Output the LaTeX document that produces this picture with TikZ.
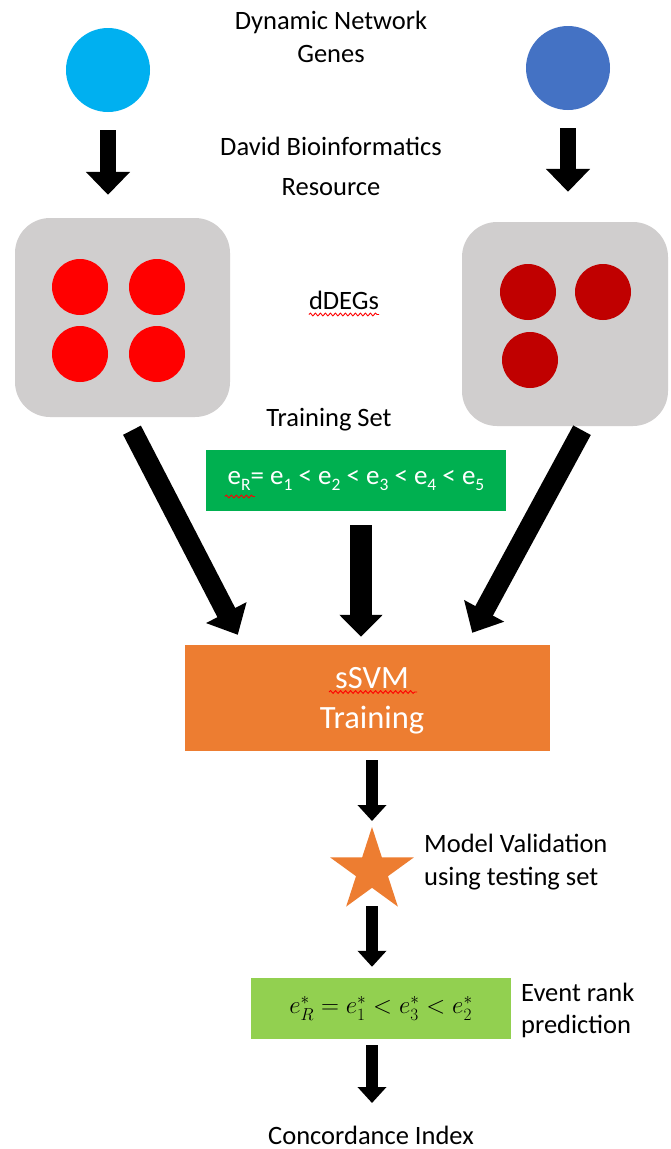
\documentclass[tikz,border=0pt]{standalone}
\usepackage{fontspec}
\setmainfont{Carlito}
\usetikzlibrary{arrows.meta,shapes.geometric,decorations.pathmorphing,calc}
\definecolor{cyanb}{HTML}{00B0F0}
\definecolor{blueb}{HTML}{4472C4}
\definecolor{grayb}{HTML}{D0CECE}
\definecolor{redb}{HTML}{FF0000}
\definecolor{dredb}{HTML}{C00000}
\definecolor{greenb}{HTML}{00B050}
\definecolor{orangeb}{HTML}{ED7D31}
\definecolor{lgreenb}{HTML}{92D050}
\newcommand\bodyfont{\fontsize{26.5}{33}\selectfont}
\newcommand\sbs[1]{\raisebox{-0.22em}{\fontsize{17.5}{17.5}\selectfont #1}}
\tikzset{
  tbox/.style={inner sep=0pt, font=\bodyfont, align=center},
  bigdot/.style={circle, inner sep=0pt, minimum size=84pt},
  dot/.style={circle, inner sep=0pt, minimum size=56pt},
  panel/.style={fill=grayb, rounded corners=35pt, inner sep=0pt},
  toparrow/.style={line width=16pt, -{Triangle[width=43pt,length=23pt]}},
  diagarrow/.style={line width=20pt, -{Triangle[width=44pt,length=25pt]}},
  midarrow/.style={line width=22pt, -{Triangle[width=42pt,length=22pt]}},
  smallarrow/.style={line width=12pt, -{Triangle[width=28pt,length=16pt]}},
  squiggle/.style={red, line width=0.9pt, decorate, decoration={snake, amplitude=1.4pt, segment length=5pt}}
}
\begin{document}
\begin{tikzpicture}[x=1pt,y=-1pt]
\path[use as bounding box, fill=white] (0,0) rectangle (670,1149);

% top circles and texts
\node[bigdot, fill=cyanb] (c1) at (108,70) {};
\node[bigdot, fill=blueb] (c2) at (568,68) {};
\node[tbox] (dyn) at (331,37) {Dynamic Network\\Genes};
\node[tbox] (david) at (331,166) {David Bioinformatics\\[7pt]Resource};

% panels
\node[panel, minimum width=215pt, minimum height=199pt] (box1) at (122.5,317.5) {};
\node[panel, minimum width=206pt, minimum height=204pt] (box2) at (565,324) {};
\node[dot, fill=redb] (r1) at (80,287) {};
\node[dot, fill=redb] (r2) at (157,287) {};
\node[dot, fill=redb] (r3) at (80,354) {};
\node[dot, fill=redb] (r4) at (157,354) {};
\node[dot, fill=dredb] (d1) at (528,292) {};
\node[dot, fill=dredb] (d2) at (603,292) {};
\node[dot, fill=dredb] (d3) at (530,360) {};

\node[tbox] (ddeg) at (344,300) {dDEGs};
\draw[squiggle] ([yshift=-5pt]ddeg.south west) -- ([yshift=-5pt]ddeg.south east);

% top arrows
\draw[toparrow, shorten <=18pt, shorten >=23pt] (c1.south) -- (c1.south |- box1.north);
\draw[toparrow, shorten <=18pt, shorten >=30pt] (c2.south) -- (c2.south |- box2.north);

% training set
\node[tbox] (tsl) at (329,420) {Training Set};
\node[fill=greenb, minimum width=300pt, minimum height=61pt, inner sep=0pt,
      text=white, font=\fontsize{27}{30}\selectfont] (tset) at (356,480.5)
      {e\sbs{R}= e\sbs{1} < e\sbs{2} < e\sbs{3} < e\sbs{4} < e\sbs{5}};
\draw[squiggle] ([xshift=19pt,yshift=-16pt]tset.west) -- ([xshift=49pt,yshift=-16pt]tset.west);

% sSVM training
\node[fill=orangeb, minimum width=365pt, minimum height=106pt, inner sep=0pt] (train) at (367.5,698) {};
\node[tbox, text=white, font=\fontsize{32.5}{40}\selectfont] (trtext) at (372,701) {sSVM\\Training};
\draw[squiggle] ([xshift=-43pt,yshift=9pt]trtext.center) -- ([xshift=45pt,yshift=9pt]trtext.center);

% arrows into training
\draw[diagarrow] ([xshift=9.5pt,yshift=-13pt]box1.south) -- ([xshift=53pt,yshift=10pt]train.north west);
\draw[diagarrow] ([xshift=17pt,yshift=-4pt]box2.south) -- ([xshift=-78pt,yshift=12pt]train.north east);
\draw[midarrow] ([xshift=5pt,yshift=-14pt]tset.south) -- ([xshift=5pt,yshift=8pt]tset.south |- train.north);

% star and validation
\node[star, star points=5, star point ratio=2.618, fill=orangeb, minimum size=88pt, inner sep=0pt] (star) at (372,871) {};
\node[tbox, anchor=west, align=left] (mv) at (424,862) {Model Validation\\using testing set};
\draw[smallarrow] ([xshift=4.5pt,yshift=-9pt]train.south) -- ([yshift=50pt]star.center);

% event rank prediction
\node[fill=lgreenb, minimum width=260pt, minimum height=61pt, inner sep=0pt,
      font=\fontsize{27}{30}\selectfont] (evt) at (381,1008.5) {$e_R^* = e_1^* < e_3^* < e_2^*$\hspace{10pt}};
\node[tbox, anchor=west, align=left, font=\fontsize{26.5}{32}\selectfont] (erp) at (521,1010) {Event rank\\prediction};
\draw[smallarrow] ([yshift=-35pt]star.center) -- ([yshift=11pt]star.center |- evt.north);

% concordance
\node[tbox] (conc) at (371,1135) {Concordance Index};
\draw[smallarrow] ([yshift=-6pt]evt.south -| star.center) -- ([yshift=32pt]star.center |- conc.center);
\end{tikzpicture}
\end{document}
